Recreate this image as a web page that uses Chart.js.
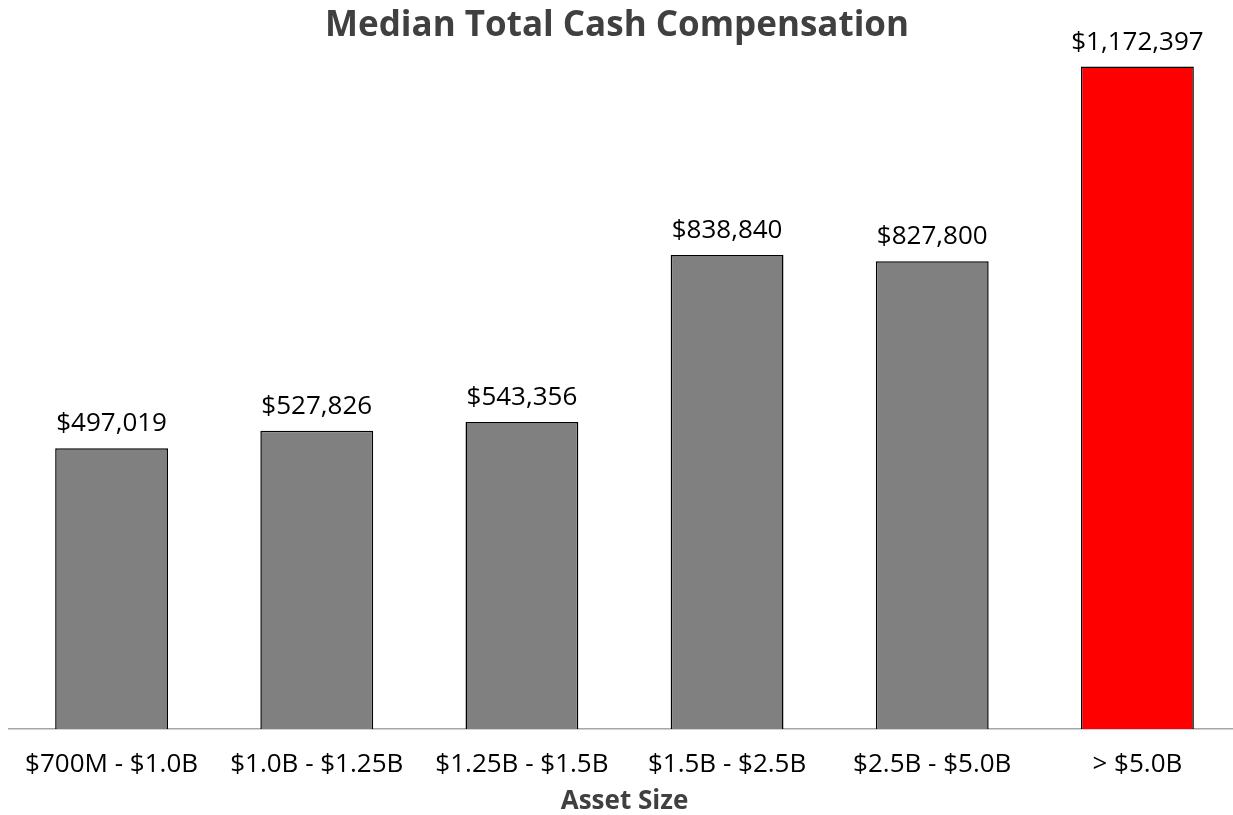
<!DOCTYPE html>
<html>
<head>
    <title>Median Total Cash Compensation</title>
    <script src="https://cdn.jsdelivr.net/npm/chart.js"></script>
    <style>
        body {
            margin: 0;
            background-color: #ffffff;
            overflow: hidden;
        }
        .chart-container {
            position: relative;
            width: 1240px;
            height: 815px;
        }
    </style>
</head>
<body>
    <div class="chart-container">
        <canvas id="compChart"></canvas>
    </div>

    <script>
        var categories = ['$700M - $1.0B', '$1.0B - $1.25B', '$1.25B - $1.5B', '$1.5B - $2.5B', '$2.5B - $5.0B', '> $5.0B'];
        var medianCash = [497019, 527826, 543356, 838840, 827800, 1172397];
        var barColors = ['#808080', '#808080', '#808080', '#808080', '#808080', '#ff0000'];

        var fontFamily = '"Open Sans", "Noto Sans", sans-serif';

        function money(v) {
            return '$' + v.toLocaleString('en-US');
        }

        // title and value labels drawn by hand so they sit where the original has them
        var labelPlugin = {
            id: 'valueLabels',
            afterDatasetsDraw: function(chart) {
                var ctx = chart.ctx;
                var meta = chart.getDatasetMeta(0);
                ctx.save();
                ctx.fillStyle = '#000000';
                ctx.font = '26px ' + fontFamily;
                ctx.textAlign = 'center';
                ctx.textBaseline = 'alphabetic';
                meta.data.forEach(function(bar, i) {
                    ctx.fillText(money(medianCash[i]), bar.x, bar.y - 17);
                });

                ctx.fillStyle = '#404040';
                ctx.font = 'bold 35px ' + fontFamily;
                ctx.textBaseline = 'middle';
                ctx.fillText('Median Total Cash Compensation', 617, 26);
                ctx.restore();
            }
        };

        new Chart(document.getElementById('compChart').getContext('2d'), {
            type: 'bar',
            data: {
                labels: categories,
                datasets: [{
                    data: medianCash,
                    backgroundColor: barColors,
                    borderColor: '#000000',
                    borderWidth: 1.5,
                    categoryPercentage: 0.55,
                    barPercentage: 1.0
                }]
            },
            options: {
                responsive: true,
                maintainAspectRatio: false,
                animation: false,
                layout: {
                    padding: { left: 9, right: 0, top: 51, bottom: 0 }
                },
                plugins: {
                    legend: { display: false },
                    tooltip: { enabled: false }
                },
                scales: {
                    y: {
                        display: false,
                        min: 0,
                        max: 1200000
                    },
                    x: {
                        grid: { display: false, drawTicks: false },
                        border: { color: '#a6a6a6', width: 1.5 },
                        ticks: {
                            color: '#000000',
                            padding: 23,
                            maxRotation: 0,
                            font: { family: fontFamily, size: 26, lineHeight: 1 }
                        },
                        title: {
                            display: true,
                            text: 'Asset Size',
                            color: '#404040',
                            padding: { top: -12, bottom: 0 },
                            font: { family: fontFamily, size: 26, weight: 'bold', lineHeight: 1 }
                        }
                    }
                }
            },
            plugins: [labelPlugin]
        });
    </script>
</body>
</html>
